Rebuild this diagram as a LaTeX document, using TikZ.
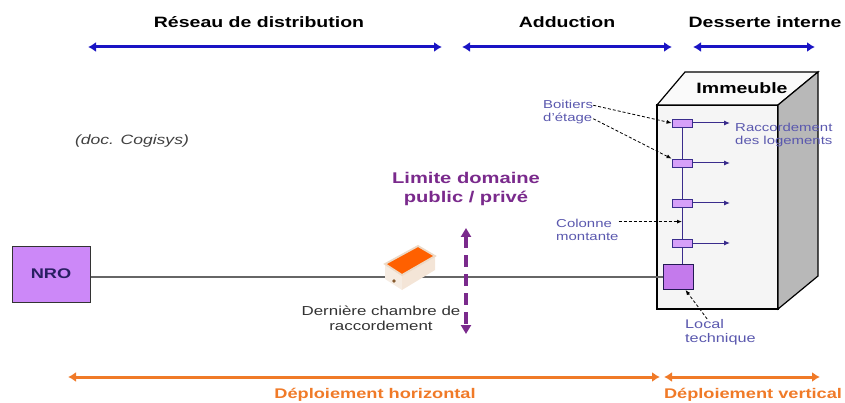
\documentclass[tikz,border=0pt]{standalone}
\usepackage{fontspec}
\setmainfont{Liberation Sans}[FakeStretch=1.3]
\usetikzlibrary{arrows.meta}

\definecolor{spanblue}{HTML}{1A14C4}
\definecolor{deployorange}{HTML}{F07A28}
\definecolor{mauve}{HTML}{CC88F8}
\definecolor{riser}{HTML}{3A2C8C}
\definecolor{notes}{HTML}{5A58AE}
\definecolor{limit}{HTML}{7A2A8C}

\begin{document}
\begin{tikzpicture}[x=1pt, y=-1pt,
        every node/.style = {inner sep=0pt, font=\fontsize{11.5}{13.5}\selectfont},
        title/.style = {font=\fontsize{15}{17}\selectfont\bfseries},
        phase/.style = {font=\fontsize{14}{16}\selectfont\bfseries, text=deployorange},
        span/.style = {spanblue, line width=3pt,
            {Latex[length=8pt,width=10pt]}-{Latex[length=8pt,width=10pt]}},
        deploy/.style = {deployorange, line width=3pt,
            {Latex[length=8pt,width=10pt]}-{Latex[length=8pt,width=10pt]}},
        note/.style = {notes, align=left},
        pointer/.style = {densely dashed, line width=0.8pt, -{Latex[length=5pt,width=4pt]}},
        boitier/.style = {draw=riser, fill=mauve!80, line width=0.8pt,
            minimum width=20pt, minimum height=8pt},
        feed/.style = {riser, line width=1pt, -{Latex[length=6pt,width=5pt]}},
        ]
    \useasboundingbox (0,0) rectangle (845,403);

    % network segments on top
    \node[title] (reseau) at (259,22) {Réseau de distribution};
    \node[title] (adduction) at (567,22) {Adduction};
    \node[title] (desserte) at (765,22) {Desserte interne};
    \foreach \n/\a/\b in {reseau/88/442, adduction/462/672, desserte/693/815} {
        \coordinate (\n-l) at (\a,47);
        \coordinate (\n-r) at (\b,47);
        \draw[span] (\n-l) -- (\n-r);
    }

    \node[font=\fontsize{13.5}{15}\selectfont\itshape, text=black!75] (doc) at (132,141) {(doc. Cogisys)};

    % building
    \draw[line width=1.2pt, fill=black!4] (657,105) rectangle (778,309);
    \draw[line width=1.2pt, fill=black!2] (657,105) -- (685,72) -- (818,72) -- (778,105) -- cycle;
    \draw[line width=1.2pt, fill=black!28] (778,105) -- (818,72) -- (818,276) -- (778,309) -- cycle;
    \node[title] (immeuble) at (742,88) {Immeuble};

    % NRO and the feeder cable
    \node[draw=black!80, line width=1pt, fill=mauve, minimum width=78pt, minimum height=56pt,
        font=\fontsize{14}{16}\selectfont\bfseries, text=riser!70!black] (nro) at (51,274) {NRO};
    \node[draw=riser!60!black, line width=1pt, fill=mauve!90!violet, minimum width=30pt,
        minimum height=25pt] (local) at (678,277) {};
    \draw[black!60, line width=1.4pt] (nro.east |- local.west) -- (local.west);

    % last chamber
    \fill[brown!15] (385,264) -- (402,275) -- (402,290) -- (385,279) -- cycle;
    \fill[orange!10!brown!20] (402,275) -- (435,256) -- (435,270) -- (402,290) -- cycle;
    \draw[brown!30, fill=orange!75!red, line width=1.8pt] (385,264) -- (418,246) -- (435,256) -- (402,275) -- cycle;
    \fill[brown!70!black] (394,281) circle (1.8pt);
    \node[align=center, text=black!80, font=\fontsize{13}{15}\selectfont] (chambre) at (381,318)
        {Dernière chambre de\\raccordement};

    % public / private boundary
    \node[font=\fontsize{15.5}{19}\selectfont\bfseries, text=limit, align=center] (limite) at (466,189)
        {Limite domaine\\public / privé};
    \coordinate (lim-up) at (466,228);
    \coordinate (lim-down) at (466,334);
    \draw[limit, line width=3.5pt, dash pattern=on 12pt off 7pt,
        {Triangle[length=9pt,width=10pt]}-{Triangle[length=9pt,width=10pt]}] (lim-up) -- (lim-down);

    % rising column with floor boxes
    \foreach \i/\y in {1/123, 2/163, 3/203, 4/243} {
        \node[boitier] (b\i) at (682,\y) {};
        \coordinate (r\i) at (730,\y);
        \draw[feed] (b\i) -- (r\i);
    }
    \draw[riser, line width=1pt] (b1) -- (b2) -- (b3) -- (b4) -- (b4 |- local.north);

    % captions
    \node[note, anchor=west] (boitiers) at (543,112) {Boitiers\\d'étage};
    \draw[pointer] (boitiers.15) -- (b1.west);
    \draw[pointer] (boitiers.-15) -- (b2.north west);
    \node[note, anchor=west] (raccord) at (735,135) {Raccordement\\des logements};
    \node[note, anchor=west] (colonne) at (556,230) {Colonne\\montante};
    \draw[pointer] (colonne.15) -- (colonne.15 -| b3);
    \node[note, anchor=north west, font=\fontsize{12.5}{14.5}\selectfont] (technique) at (685,319) {Local\\technique};
    \draw[pointer] (technique.135) -- (local.-60);

    % deployment phases at the bottom
    \coordinate (horiz-l) at (68,377);
    \coordinate (horiz-r) at (660,377);
    \coordinate (vert-l) at (664,377);
    \coordinate (vert-r) at (820,377);
    \draw[deploy] (horiz-l) -- (horiz-r);
    \draw[deploy] (vert-l) -- (vert-r);
    \node[phase] (horizontal) at (375,395) {Déploiement horizontal};
    \node[phase] (vertical) at (753,395) {Déploiement vertical};
\end{tikzpicture}
\end{document}
